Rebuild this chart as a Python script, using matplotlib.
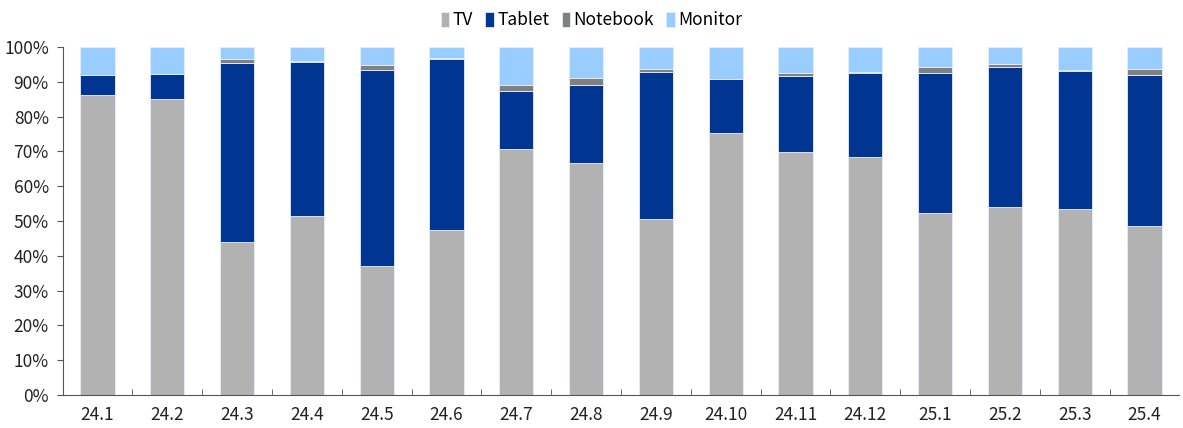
import numpy as np
import matplotlib.pyplot as plt

plt.rcParams['font.family'] = ['Noto Sans CJK KR', 'DejaVu Sans']

# month labels
months = ["24.1", "24.2", "24.3", "24.4", "24.5", "24.6", "24.7", "24.8",
          "24.9", "24.10", "24.11", "24.12", "25.1", "25.2", "25.3", "25.4"]

# shares in %
tv = [86.2, 85.1, 44.0, 51.4, 37.1, 47.4, 70.7, 66.7,
      50.6, 75.3, 69.8, 68.4, 52.3, 54.0, 53.4, 48.6]
tablet = [5.8, 7.1, 51.4, 44.3, 56.3, 49.2, 16.7, 22.4,
          42.2, 15.5, 21.9, 24.1, 40.2, 40.3, 39.7, 43.4]
notebook = [0.0, 0.0, 1.2, 0.2, 1.4, 0.3, 1.7, 2.0,
            0.9, 0.0, 0.8, 0.2, 1.8, 0.8, 0.2, 1.7]
monitor = [100 - a - b - c for a, b, c in zip(tv, tablet, notebook)]

colors = ["#b2b2b2", "#003591", "#808080", "#99ccff"]
names = ["TV", "Tablet", "Notebook", "Monitor"]

fig, ax = plt.subplots(figsize=(11.83, 4.28), dpi=100)
fig.subplots_adjust(left=0.053, right=0.997, top=0.89, bottom=0.077)

x = np.arange(len(months))
bottom = np.zeros(len(months))
for vals, c, n in zip([tv, tablet, notebook, monitor], colors, names):
    ax.bar(x, vals, width=0.49, bottom=bottom, color=c, label=n,
           edgecolor="#e6eefa", linewidth=0.6)
    bottom += np.array(vals)

ax.set_xlim(-0.5, len(months) - 0.5)
ax.set_ylim(0, 100)
ax.set_yticks(np.arange(0, 101, 10))
ax.set_yticklabels([f"{v}%" for v in range(0, 101, 10)], fontsize=12.5, color="#222222")
ax.set_xticks(x)
ax.set_xticklabels(months, fontsize=12.5, color="#222222")
ax.tick_params(axis="x", which="major", length=0, pad=8)
ax.set_xticks(np.arange(0.5, len(months) - 0.5, 1), minor=True)
ax.tick_params(axis="x", which="minor", direction="in", length=4, color="#555555")
ax.tick_params(axis="y", length=4, color="#555555", pad=6)

for s in ["top", "right"]:
    ax.spines[s].set_visible(False)
for s in ["left", "bottom"]:
    ax.spines[s].set_color("#555555")

fig.legend(*ax.get_legend_handles_labels(), loc="upper center",
           bbox_to_anchor=(0.5, 1.01), ncol=4, frameon=False,
           fontsize=12.5, handlelength=0.5, handleheight=0.9, handletextpad=0.2,
           columnspacing=0.7)

fig.savefig("out.png")
